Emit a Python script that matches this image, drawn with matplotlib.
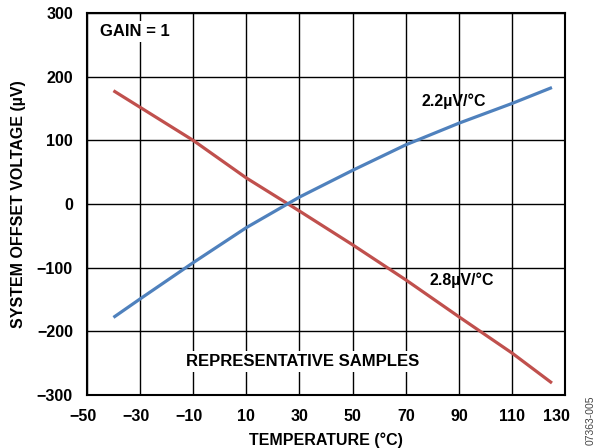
import numpy as np
import matplotlib
matplotlib.use("Agg")
import matplotlib.pyplot as plt
import matplotlib.transforms as mtransforms

plt.rcParams['font.family'] = ['Liberation Sans', 'DejaVu Sans']
plt.rcParams['font.weight'] = 'bold'

# temperature (degC) and offset voltage (uV) for the two samples
temp = [-40, -30, -10, 10, 30, 50, 70, 90, 110, 125]
offset_blue = [-178, -149, -92, -37, 11, 53, 93, 127, 158, 183]
offset_red = [178, 152, 100, 41, -11, -64, -119, -177, -234, -281]

xticks = [-50, -30, -10, 10, 30, 50, 70, 90, 110, 130]
yticks = [-300, -200, -100, 0, 100, 200, 300]

fs = 11.5

fig = plt.figure(figsize=(5.95, 4.48), dpi=100)
ax = fig.add_axes([0.146, 0.118, 0.804, 0.853])

ax.plot(temp, offset_red, color="#C0504D", lw=2.3, solid_capstyle="butt", zorder=3)
ax.plot(temp, offset_blue, color="#4F81BD", lw=2.3, solid_capstyle="butt", zorder=3)

ax.set_xlim(-50, 130)
ax.set_ylim(-300, 300)
ax.set_xticks(xticks)
ax.set_yticks(yticks)
ax.tick_params(length=0, labelsize=fs, pad=10)
for lab in ax.get_xticklabels() + ax.get_yticklabels():
    lab.set_fontweight("bold")

# the minus sign hangs out to the left, and the last label is pulled in a bit
for val, lab in zip(xticks, ax.get_xticklabels()):
    dx = 0
    if val < 0:
        dx = -4
    elif val == xticks[-1]:
        dx = -9
    if dx:
        lab.set_transform(lab.get_transform() +
                          mtransforms.ScaledTranslation(dx / 100, 0, fig.dpi_scale_trans))

ax.grid(True, color="black", lw=1.0)
ax.set_axisbelow(True)
for s in ax.spines.values():
    s.set_linewidth(1.5)
    s.set_zorder(4)

ax.set_xlabel("TEMPERATURE (°C)", fontsize=fs, fontweight="bold", labelpad=6)
ax.set_ylabel("SYSTEM OFFSET VOLTAGE (µV)", fontsize=fs, fontweight="bold", labelpad=8)

box = dict(facecolor="white", edgecolor="none", pad=2)
ax.text(-45, 271, "GAIN = 1", fontsize=12, fontweight="bold", va="center", ha="left", bbox=box, zorder=2)
ax.text(76, 162, "2.2µV/°C", fontsize=fs, fontweight="bold", va="center", ha="left", zorder=2)
ax.text(79, -119, "2.8µV/°C", fontsize=fs, fontweight="bold", va="center", ha="left", zorder=2)
ax.text(31, -247, "REPRESENTATIVE SAMPLES", fontsize=12, fontweight="bold", va="center", ha="center", bbox=box, zorder=2)

fig.text(0.993, 0.0625, "07363-005", rotation=90, fontsize=7.5, fontweight="normal",
         color="#444444", ha="center", va="center")

fig.savefig("out.png", dpi=100)
